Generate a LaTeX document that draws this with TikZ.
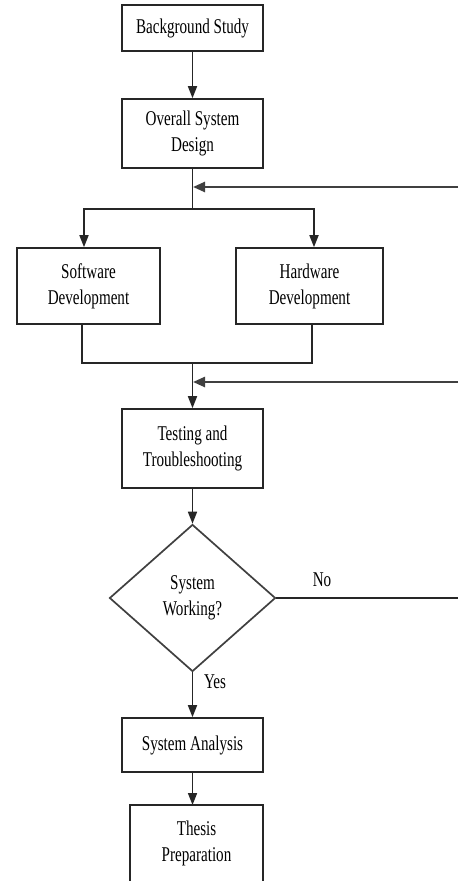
\documentclass[tikz,border=0pt]{standalone}
\usepackage{fontspec}
\setmainfont{Liberation Serif}[FakeStretch=0.72]
\usetikzlibrary{arrows.meta,shapes.geometric,calc}
\begin{document}
\begin{tikzpicture}[x=1pt,y=-1pt,
  txt/.style={font=\fontsize{21}{26}\selectfont,align=center,inner sep=0pt},
  box/.style={txt,draw=black!85,line width=1.7pt},
  ln/.style={draw=black!85,line width=1.7pt},
  arr/.style={ln,-{Triangle[length=12pt,width=9pt]}},
  fb/.style={draw=black!75,line width=2.4pt,-{Triangle[length=12pt,width=10pt]},shorten >=0.5pt}]
\useasboundingbox (0,0) rectangle (458,881);
\clip (0,0) rectangle (458,881);
\fill[white] (0,0) rectangle (458,881);
% nodes
\node[box,minimum width=141,minimum height=46] (bg) at (192.5,28) {Background Study};
\node[box,minimum width=141,minimum height=69] (osd) at (192.5,133.5) {Overall System\\Design};
\node[box,minimum width=143,minimum height=76] (sw) at (88.5,286) {Software\\Development};
\node[box,minimum width=147,minimum height=76] (hw) at (309.5,286) {Hardware\\Development};
\node[box,minimum width=141,minimum height=79] (test) at (192.5,448.5) {Testing and\\Troubleshooting};
\node[txt,diamond,draw=black!75,line width=1.7pt,aspect=1.13,minimum width=166,minimum height=147] (dec) at (192.5,598) {System\\Working?};
\node[box,minimum width=141,minimum height=54] (sa) at (192.5,745) {System Analysis};
\node[txt,minimum width=133,minimum height=76,anchor=north] (th) at (196.5,805) {Thesis\\Preparation};
\draw[ln] ($(th.south west)+(0,30)$) -- (th.north west) -- (th.north east) -- ($(th.south east)+(0,30)$);
\node[txt] (no) at (322,580) {No};
\node[txt] (yes) at (215,682) {Yes};
% coordinates
\coordinate (split) at (192.5,209);
\coordinate (join) at (192.5,363);
\coordinate (fb1) at (458,187);
\coordinate (fb2) at (458,382);
\coordinate (noend) at (458,598);
% connectors
\draw[arr] (bg) -- (osd);
\draw[ln] (osd.south) -- (split);
\draw[arr] (split) -| ([xshift=-4.5pt]sw.north);
\draw[arr] (split) -| ([xshift=4.5pt]hw.north);
\draw[ln] ([xshift=-6.5pt]sw.south) |- (join) -| ([xshift=2.5pt]hw.south);
\draw[arr] (join) -- (test);
\draw[fb] (fb1) -- (fb1 -| osd.south);
\draw[fb] (fb2) -- (fb2 -| test.north);
\draw[arr] (test) -- (dec);
\draw[ln] (dec.east) -- (noend);
\draw[arr] (dec.south) -- (sa.north);
\draw[arr] (sa.south) -- (sa.south |- th.north);
\end{tikzpicture}
\end{document}
